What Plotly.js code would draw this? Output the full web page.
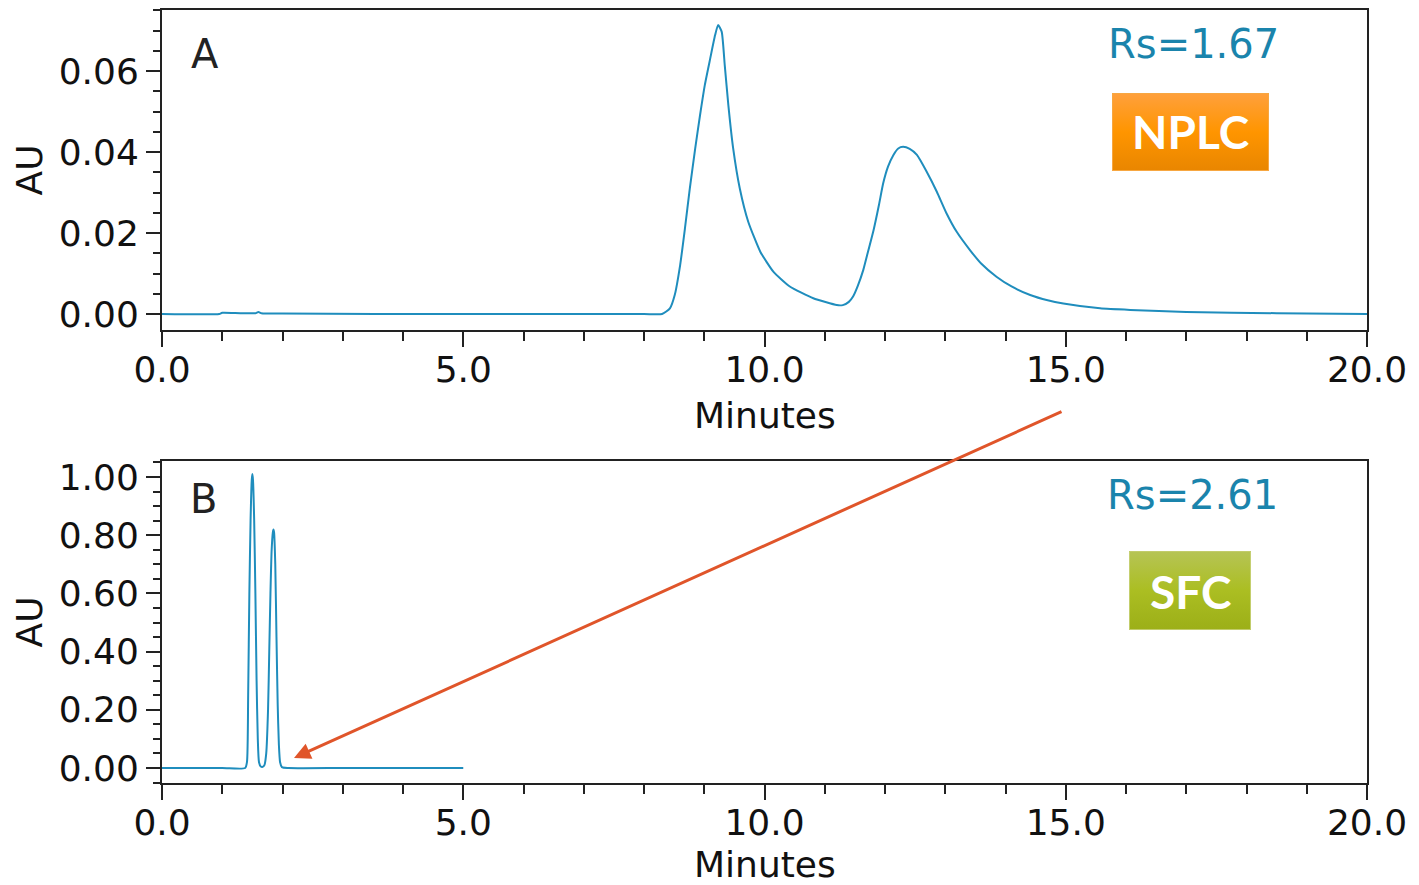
<!DOCTYPE html>
<html>
<head>
<meta charset="utf-8">
<script src="https://cdn.plot.ly/plotly-3.0.1.min.js"></script>
<style>
html,body{margin:0;padding:0;background:#fff;}
#chart{width:1419px;height:885px;}
</style>
</head>
<body>
<div id="chart"></div>
<script>
// ---- Data ----
// Panel A: NPLC chromatogram (minutes, AU)
var nplcTime = [0.0, 0.95, 1.0, 1.3, 1.55, 1.6, 1.65, 2.0, 5.0, 8.0, 8.30, 8.43, 8.51, 8.60, 8.68, 8.76, 8.85, 8.93, 9.01, 9.10, 9.18, 9.23, 9.29, 9.34, 9.40, 9.48, 9.59, 9.73, 9.93, 10.15, 10.42, 10.81, 11.20, 11.30, 11.40, 11.47, 11.55, 11.64, 11.72, 11.81, 11.90, 11.97, 12.05, 12.14, 12.22, 12.30, 12.41, 12.53, 12.69, 12.86, 13.02, 13.19, 13.41, 13.60, 13.85, 14.10, 14.41, 14.70, 14.96, 15.57, 16.07, 17.0, 18.5, 20.0];
var nplcAU   = [0.0, 0.0, 0.0003, 0.0002, 0.0002, 0.0005, 0.0002, 0.0001, 0.0, 0.0, 0.0, 0.0014, 0.0047, 0.0121, 0.0212, 0.0310, 0.0409, 0.0491, 0.0566, 0.0632, 0.0689, 0.0714, 0.0697, 0.0615, 0.0516, 0.0409, 0.0310, 0.0228, 0.0154, 0.0104, 0.0068, 0.0039, 0.0022, 0.0022, 0.0030, 0.0043, 0.0070, 0.0109, 0.0155, 0.0207, 0.0270, 0.0323, 0.0364, 0.0393, 0.0409, 0.0413, 0.0408, 0.0393, 0.0352, 0.0302, 0.0249, 0.0203, 0.0158, 0.0124, 0.0092, 0.0068, 0.0047, 0.0034, 0.0026, 0.0014, 0.0010, 0.0005, 0.0002, 0.0];

// Panel B: SFC chromatogram (minutes, AU)
var sfcTime = [0.0, 1.0, 1.38, 1.41, 1.43, 1.45, 1.47, 1.49, 1.50, 1.51, 1.53, 1.55, 1.57, 1.59, 1.61, 1.64, 1.67, 1.70, 1.73, 1.76, 1.78, 1.80, 1.82, 1.84, 1.85, 1.86, 1.88, 1.90, 1.92, 1.94, 1.96, 1.99, 2.1, 3.0, 4.0, 5.0];
var sfcAU   = [0.0, 0.0, 0.0, 0.02, 0.25, 0.60, 0.85, 0.99, 1.01, 0.99, 0.85, 0.60, 0.30, 0.10, 0.02, 0.005, 0.004, 0.01, 0.05, 0.20, 0.40, 0.60, 0.75, 0.81, 0.82, 0.81, 0.70, 0.45, 0.22, 0.08, 0.02, 0.003, 0.0, 0.0, 0.0, 0.0];

// Labels
var panelLabels = ["A", "B"];
var resolutionLabels = ["Rs=1.67", "Rs=2.61"];
var methodLabels = ["NPLC", "SFC"];
var xTitle = "Minutes";
var yTitle = "AU";

// ---- Styling ----
var W = 1419, H = 885;
var lineColor = "#1f8dbd";
var axisColor = "#222222";
var tickFont = {family: "DejaVu Sans, Verdana, sans-serif", size: 36, color: "#111111"};

function px2x(p){ return p / W; }
function px2y(p){ return (H - p) / H; }

var traces = [
  {x: nplcTime, y: nplcAU, type: "scatter", mode: "lines", xaxis: "x", yaxis: "y",
   line: {color: lineColor, width: 2, shape: "spline", smoothing: 0.5}, hoverinfo: "skip"},
  {x: sfcTime, y: sfcAU, type: "scatter", mode: "lines", xaxis: "x2", yaxis: "y2",
   line: {color: lineColor, width: 2, shape: "spline", smoothing: 0.6}, hoverinfo: "skip"}
];

function xAxis(anchor){
  return {
    anchor: anchor, domain: [px2x(162), px2x(1367)], range: [0, 20],
    dtick: 5, tick0: 0, tickformat: ".1f",
    ticks: "outside", ticklen: 15, tickwidth: 2, tickcolor: axisColor,
    ticklabelstandoff: -8,
    minor: {dtick: 1, ticks: "outside", ticklen: 9, tickwidth: 2, tickcolor: axisColor, showgrid: false},
    showline: true, linecolor: axisColor, linewidth: 2, mirror: true,
    showgrid: false, zeroline: false, tickfont: tickFont
  };
}
function yAxis(anchor, dom, range, dtick, minorDtick){
  return {
    anchor: anchor, domain: dom, range: range,
    dtick: dtick, tick0: 0, tickformat: ".2f",
    ticks: "outside", ticklen: 14, tickwidth: 2, tickcolor: axisColor,
    minor: {dtick: minorDtick, ticks: "outside", ticklen: 7, tickwidth: 2, tickcolor: axisColor, showgrid: false},
    showline: true, linecolor: axisColor, linewidth: 2, mirror: true,
    showgrid: false, zeroline: false, tickfont: tickFont,
    title: {text: yTitle, font: tickFont, standoff: 5}
  };
}

function gradSvg(c1, c2, c3, border){
  var s = "<svg xmlns='http://www.w3.org/2000/svg' width='160' height='80' preserveAspectRatio='none'>" +
    "<defs><linearGradient id='g' x1='0' y1='0' x2='0' y2='1'>" +
    "<stop offset='0' stop-color='" + c1 + "'/><stop offset='0.5' stop-color='" + c2 + "'/><stop offset='1' stop-color='" + c3 + "'/>" +
    "</linearGradient></defs><rect x='0.5' y='0.5' width='159' height='79' fill='url(#g)' stroke='" + border + "' stroke-width='1'/></svg>";
  return "data:image/svg+xml;charset=utf-8," + encodeURIComponent(s);
}

function label(text, cx, cy, font){
  return {text: text, xref: "paper", yref: "paper", x: px2x(cx), y: px2y(cy),
          xanchor: "center", yanchor: "middle", showarrow: false, font: font};
}

var panelFont = {family: "DejaVu Sans, sans-serif", size: 40, color: "#222222"};
var rsFont = {family: "DejaVu Sans, sans-serif", size: 40, color: "#1a84ac"};
var boxFont = {family: "Lato, Open Sans, sans-serif", size: 46, color: "#ffffff", weight: "bold"};

var layout = {
  width: W, height: H,
  margin: {l: 0, r: 0, t: 0, b: 0},
  paper_bgcolor: "#ffffff", plot_bgcolor: "#ffffff",
  showlegend: false,
  xaxis: xAxis("y"),
  yaxis: yAxis("x", [px2y(330), px2y(10)], [-0.00395, 0.0751], 0.02, 0.005),
  xaxis2: xAxis("y2"),
  yaxis2: yAxis("x2", [px2y(783), px2y(461)], [-0.0515, 1.055], 0.2, 0.05),
  images: [
    {source: gradSvg("#ffa03c", "#ff9500", "#e98600", "#f7a640"), xref: "paper", yref: "paper",
     x: px2x(1112), y: px2y(93), sizex: (1269 - 1112) / W, sizey: (171 - 93) / H,
     xanchor: "left", yanchor: "top", sizing: "stretch", layer: "above"},
    {source: gradSvg("#b6c455", "#abbe22", "#9caf18", "#c2cc6a"), xref: "paper", yref: "paper",
     x: px2x(1129), y: px2y(551), sizex: (1251 - 1129) / W, sizey: (630 - 551) / H,
     xanchor: "left", yanchor: "top", sizing: "stretch", layer: "above"}
  ],
  annotations: [
    label(panelLabels[0], 205, 54, panelFont),
    label(panelLabels[1], 203, 499, panelFont),
    label(resolutionLabels[0], 1193, 44, rsFont),
    label(resolutionLabels[1], 1192, 495, rsFont),
    label(methodLabels[0], 1190, 132, boxFont),
    label(methodLabels[1], 1190, 591, boxFont),
    label(xTitle, 765, 416, tickFont),
    label(xTitle, 765, 864, tickFont),
    {text: "", xref: "paper", yref: "paper", x: px2x(294), y: px2y(758),
     showarrow: true, ax: 1063 - 294, ay: 411 - 758, axref: "pixel", ayref: "pixel",
     arrowhead: 2, arrowsize: 1.1, arrowwidth: 3, arrowcolor: "#e0552a", standoff: 0, startstandoff: 0}
  ]
};

Plotly.newPlot("chart", traces, layout, {staticPlot: true, displayModeBar: false});
</script>
</body>
</html>
